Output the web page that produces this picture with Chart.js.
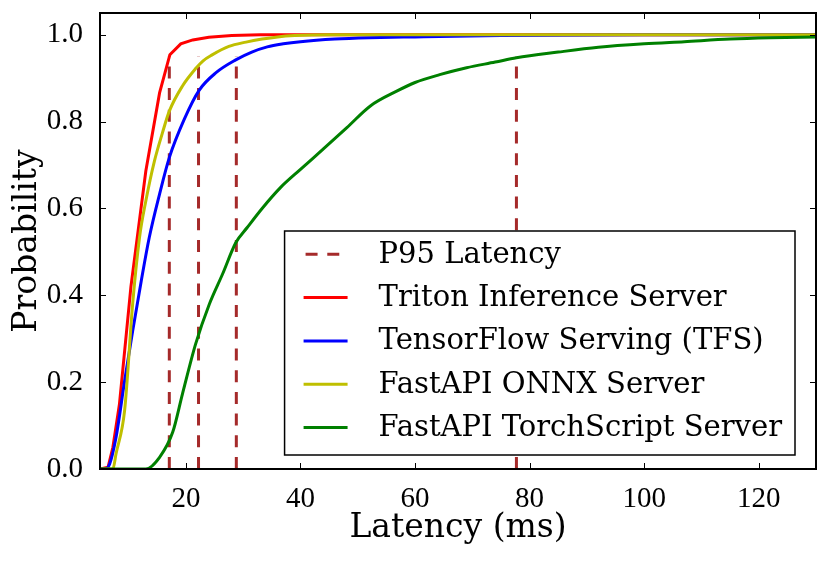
<!DOCTYPE html>
<html lang="en">

<head>
    <meta charset="utf-8">
    <title>Latency CDF</title>
    <script src="https://cdn.jsdelivr.net/npm/chart.js@4.4.0/dist/chart.umd.min.js"></script>
    <style>
        body { margin: 0; background: #ffffff; }
        #wrap { width: 830px; height: 561px; position: relative; }
    </style>
</head>

<body>
    <div id="wrap">
        <canvas id="myChart"></canvas>
    </div>

    <script>
        // latency (ms) / cumulative probability
        const tritonX = [5, 6.4, 7.25, 8.4, 10.4, 13.0, 15.4, 17.2, 19.1, 21.2, 24, 28, 33, 40, 130]
        const tritonY = [0, 0.004, 0.05, 0.15, 0.42, 0.686, 0.866, 0.954, 0.979, 0.988, 0.994, 0.998, 1.0, 1.0, 1.0]

        const tfsX = [5, 6, 6.7, 7.8, 9.3, 10.7, 12.2, 13.6, 15.4, 17.1, 19.7, 22.3, 25.2, 28.7, 31.5, 34.2, 37, 40, 46, 52, 60, 75, 100, 130]
        const tfsY = [0, 0, 0.012, 0.073, 0.203, 0.318, 0.433, 0.533, 0.633, 0.717, 0.805, 0.872, 0.912, 0.942, 0.96, 0.972, 0.979, 0.984, 0.99, 0.993, 0.995, 0.998, 1.0, 1.0]

        const onnxX = [5, 7.25, 7.8, 9.3, 10.7, 11.9, 13.0, 14.5, 15.9, 17.1, 19.4, 21.7, 23, 24.5, 27.5, 30.5, 33.3, 36, 39, 45, 60, 130]
        const onnxY = [0, 0, 0.035, 0.135, 0.38, 0.533, 0.617, 0.709, 0.774, 0.824, 0.882, 0.922, 0.94, 0.953, 0.973, 0.983, 0.99, 0.995, 0.998, 1.0, 1.0, 1.0]

        const torchX = [5, 13, 15.4, 17.7, 19.4, 21.7, 24.1, 26.4, 28.7, 30.7, 33.3, 36.5, 40, 44, 48.1, 52.2, 56.8, 60, 64.3, 69, 74, 77.7, 85, 92, 100, 107, 115, 122, 130]
        const torchY = [0, 0, 0.027, 0.085, 0.173, 0.288, 0.38, 0.449, 0.521, 0.556, 0.60, 0.648, 0.69, 0.737, 0.786, 0.836, 0.87, 0.89, 0.908, 0.924, 0.937, 0.947, 0.96, 0.971, 0.979, 0.984, 0.99, 0.993, 0.995]

        const p95Latency = [17.1, 22.2, 28.8, 77.7]
        const p95Level = 0.95

        const xTicks = [20, 40, 60, 80, 100, 120]
        const yTicks = [0, 0.2, 0.4, 0.6, 0.8, 1.0]

        const legendLabels = ['P95 Latency', 'Triton Inference Server', 'TensorFlow Serving (TFS)',
            'FastAPI ONNX Server', 'FastAPI TorchScript Server']
        const legendColors = ['#a52a2a', '#ff0000', '#0000ff', '#bfbf00', '#008000']

        function toPoints(xs, ys) {
            return xs.map((x, i) => ({ x: x, y: ys[i] }))
        }

        const p95Sets = p95Latency.map(x => ({
            data: [{ x: x, y: 0 }, { x: x, y: p95Level }],
            borderColor: legendColors[0],
            borderWidth: 3,
            borderDash: [12, 9.7],
            pointRadius: 0,
            order: 5
        }))

        function curve(xs, ys, color, order, smooth) {
            return {
                data: toPoints(xs, ys),
                borderColor: color,
                borderWidth: 3,
                pointRadius: 0,
                cubicInterpolationMode: smooth ? 'monotone' : 'default',
                tension: 0,
                order: order
            }
        }

        const datasets = p95Sets.concat([
            curve(tritonX, tritonY, legendColors[1], 4, false),
            curve(tfsX, tfsY, legendColors[2], 3, true),
            curve(onnxX, onnxY, legendColors[3], 2, true),
            curve(torchX, torchY, legendColors[4], 1, true)
        ])

        // frame, inward ticks and the legend box inside the plot
        const framePlugin = {
            id: 'frame',
            afterDraw(chart) {
                const ctx = chart.ctx
                const a = chart.chartArea
                const sx = chart.scales.x
                const sy = chart.scales.y
                ctx.save()

                ctx.strokeStyle = '#000'
                ctx.lineWidth = 1
                ctx.beginPath()
                for (const v of xTicks) {
                    const px = Math.round(sx.getPixelForValue(v)) + 0.5
                    ctx.moveTo(px, a.bottom); ctx.lineTo(px, a.bottom - 6)
                    ctx.moveTo(px, a.top); ctx.lineTo(px, a.top + 6)
                }
                for (const v of yTicks) {
                    const py = Math.round(sy.getPixelForValue(v)) + 0.5
                    ctx.moveTo(a.left, py); ctx.lineTo(a.left + 6, py)
                    ctx.moveTo(a.right, py); ctx.lineTo(a.right - 6, py)
                }
                ctx.stroke()

                ctx.lineWidth = 2
                ctx.strokeRect(a.left, a.top, a.right - a.left, a.bottom - a.top)

                // legend
                ctx.font = "29px 'DejaVu Serif', serif"
                const textW = Math.max(...legendLabels.map(t => ctx.measureText(t).width))
                const boxW = 94 + textW + 13
                const boxH = 224
                const boxR = a.right - 21
                const boxB = a.bottom - 14
                const boxL = boxR - boxW
                const boxT = boxB - boxH
                ctx.fillStyle = '#fff'
                ctx.fillRect(boxL, boxT, boxW, boxH)
                ctx.lineWidth = 1.5
                ctx.strokeStyle = '#000'
                ctx.strokeRect(boxL, boxT, boxW, boxH)

                legendLabels.forEach((t, i) => {
                    const cy = boxT + 23.3 + i * 43.3
                    ctx.beginPath()
                    ctx.strokeStyle = legendColors[i]
                    ctx.lineWidth = 3
                    ctx.setLineDash(i === 0 ? [12, 9.7] : [])
                    ctx.lineDashOffset = i === 0 ? -2 : 0
                    ctx.moveTo(boxL + 19, cy)
                    ctx.lineTo(boxL + 63, cy)
                    ctx.stroke()
                    ctx.setLineDash([])
                    ctx.fillStyle = '#000'
                    ctx.textBaseline = 'middle'
                    ctx.textAlign = 'left'
                    ctx.fillText(t, boxL + 94, cy + 1)
                })

                ctx.restore()
            }
        }

        const tickFont = { family: "'Liberation Serif', serif", size: 29 }
        const titleFont = { family: "'DejaVu Serif', serif", size: 33 }

        const config = {
            type: 'line',
            data: { datasets: datasets },
            options: {
                responsive: true,
                maintainAspectRatio: false,
                animation: false,
                layout: { padding: { top: 13, right: 14, left: 0, bottom: 0 } },
                plugins: {
                    legend: { display: false },
                    tooltip: { enabled: false }
                },
                scales: {
                    x: {
                        type: 'linear',
                        min: 5,
                        max: 130,
                        grid: { display: false },
                        border: { display: false },
                        afterBuildTicks: s => { s.ticks = xTicks.map(v => ({ value: v })) },
                        afterFit: s => { s.height = 92; s.paddingLeft = 0; s.paddingRight = 0 },
                        ticks: { color: '#000', font: tickFont, padding: 5, maxRotation: 0, autoSkip: false },
                        title: { display: true, text: 'Latency (ms)', color: '#000', font: titleFont, padding: { bottom: 13 } }
                    },
                    y: {
                        type: 'linear',
                        min: 0,
                        max: 1.05,
                        grid: { display: false },
                        border: { display: false },
                        afterBuildTicks: s => { s.ticks = yTicks.map(v => ({ value: v })) },
                        afterFit: s => { s.width = 100; s.paddingTop = 0; s.paddingBottom = 0 },
                        ticks: {
                            color: '#000', font: tickFont, padding: 9, autoSkip: false,
                            callback: v => v.toFixed(1)
                        },
                        title: { display: true, text: 'Probability', color: '#000', font: titleFont, padding: { top: 8 } }
                    }
                }
            },
            plugins: [framePlugin]
        }

        const myChart = new Chart(document.getElementById('myChart'), config)
    </script>
</body>

</html>
